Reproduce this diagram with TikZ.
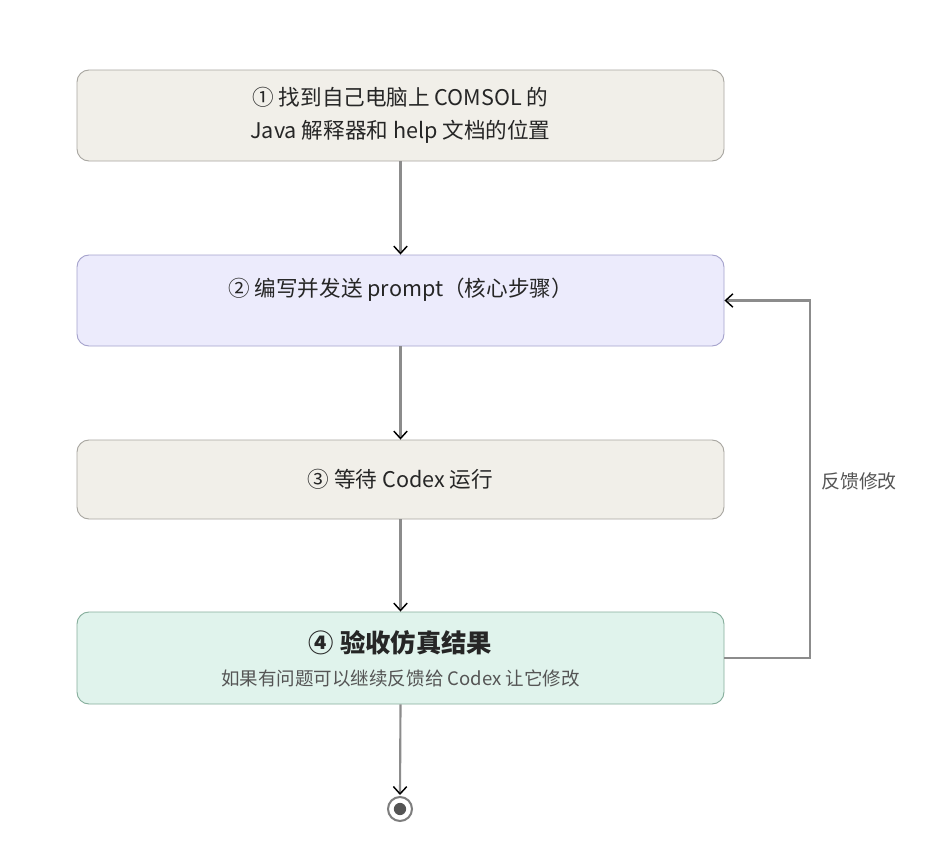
\documentclass[tikz,border=0pt]{standalone}
\usepackage{fontspec}
\setmainfont{Noto Sans CJK SC}
\usetikzlibrary{arrows.meta}
\definecolor{beigefill}{HTML}{F1EFE9}
\definecolor{beigedraw}{HTML}{A8A6A0}
\definecolor{lavfill}{HTML}{ECEBFC}
\definecolor{lavdraw}{HTML}{A5A2CC}
\definecolor{greenfill}{HTML}{E0F3EC}
\definecolor{greendraw}{HTML}{86AE9C}
\definecolor{linegray}{HTML}{8C8C8C}
\definecolor{txt}{HTML}{262626}
\definecolor{subtxt}{HTML}{555555}
\tikzset{
  stepbox/.style={rounded corners=9pt, line width=0.7pt, minimum width=485.25pt, align=center, text=txt, font=\fontsize{16.2pt}{24.75pt}\selectfont, inner sep=0pt},
  flow/.style={draw=linegray, line width=1.6pt, -{Straight Barb[length=5.5pt,width=10pt,color=black,line width=1.1pt]}},
}
\begin{document}
\begin{tikzpicture}[x=0.75pt,y=-0.75pt]
\useasboundingbox (0,0) rectangle (940,854);
\fill[white] (0,0) rectangle (940,854);
\node[stepbox, fill=beigefill, draw=beigedraw, minimum height=68.25pt] (s1) at (400.5,115.5) {① 找到自己电脑上 COMSOL 的\\Java 解释器和 help 文档的位置};
\node[stepbox, fill=lavfill, draw=lavdraw, minimum height=68.25pt] (s2) at (400.5,300.5) {};
\node[text=txt, font=\fontsize{16.2pt}{20pt}\selectfont] (s2t) at (400.5,290) {② 编写并发送 prompt（核心步骤）};
\node[stepbox, fill=beigefill, draw=beigedraw, minimum height=59.25pt] (s3) at (400.5,479.5) {③ 等待 Codex 运行};
\node[stepbox, fill=greenfill, draw=greendraw, minimum height=69pt] (s4) at (400.5,658) {};
\node[text=txt, font=\fontsize{19pt}{22pt}\selectfont\bfseries] (s4t) at (400.5,643) {④ 验收仿真结果};
\node[text=subtxt, font=\fontsize{13.9pt}{16pt}\selectfont] (s4s) at (400.5,678) {如果有问题可以继续反馈给 Codex 让它修改};
\coordinate (endc) at (400,809);
\draw[flow] (s1.south) -- (s2.north);
\draw[flow] (s2.south) -- (s3.north);
\draw[flow] (s3.south) -- (s4.north);
\draw[flow, shorten >=1pt] (s4.south) -- ([yshift=9.5pt]endc);
\draw[linegray!90!black, line width=1.5pt] (endc) circle (9pt);
\fill[linegray!60!black] (endc) circle (4.6pt);
\coordinate (fb1) at (810,658);
\coordinate (fb2) at (810,300.5);
\draw[flow] (s4.east) -- (fb1) -- (fb2) -- (s2.east);
\node[text=subtxt, font=\fontsize{14.2pt}{16pt}\selectfont] (fbl) at (859,481) {反馈修改};
\end{tikzpicture}
\end{document}
